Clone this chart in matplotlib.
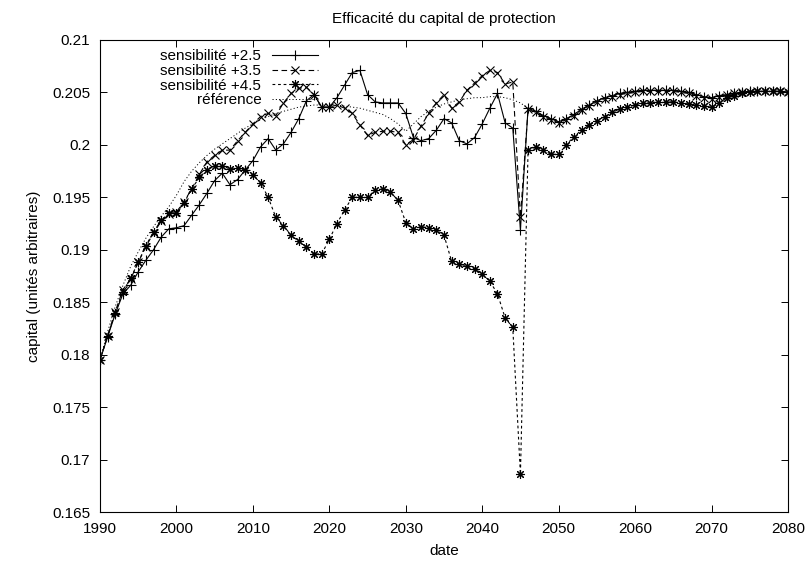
import numpy as np
import matplotlib
matplotlib.use('Agg')
import matplotlib.pyplot as plt
from matplotlib.ticker import FuncFormatter, MultipleLocator

plt.rcParams['font.family'] = ['Liberation Sans', 'DejaVu Sans']
plt.rcParams['lines.scale_dashes'] = False

# années (une valeur par an)
annees = list(range(1990, 2081))

# queue commune après 2046 (les courbes se rejoignent)
queue_haute = [0.2035, 0.2032, 0.2028, 0.2025, 0.2022, 0.2025, 0.2029, 0.2034, 0.2038, 0.2042,
               0.2045, 0.2047, 0.2049, 0.2050, 0.2051, 0.2052, 0.2052, 0.2052, 0.2052, 0.2052,
               0.2051, 0.2050, 0.2048, 0.2046, 0.2045, 0.2047, 0.2048, 0.2049, 0.2050, 0.2051,
               0.2051, 0.2051, 0.2051, 0.2051, 0.2050]

sens_25 = [0.1795, 0.1817, 0.1839, 0.1858, 0.1866, 0.1879, 0.1890, 0.1900, 0.1912, 0.1920,
           0.1921, 0.1923, 0.1933, 0.1943, 0.1954, 0.1966, 0.1973, 0.1962, 0.1967, 0.1976,
           0.1985, 0.1998, 0.2006, 0.1995, 0.2001, 0.2012, 0.2025, 0.2042, 0.2048, 0.2036,
           0.2036, 0.2045, 0.2057, 0.2069, 0.2071, 0.2048, 0.2041, 0.2040, 0.2040, 0.2040,
           0.2030, 0.2007, 0.2004, 0.2006, 0.2014, 0.2025, 0.2021, 0.2004, 0.2001, 0.2007,
           0.2020, 0.2035, 0.2049, 0.2021, 0.2016, 0.1919] + queue_haute

sens_35 = [0.1795, 0.1818, 0.1841, 0.1862, 0.1872, 0.1888, 0.1903, 0.1916, 0.1927, 0.1934,
           0.1936, 0.1946, 0.1958, 0.1972, 0.1984, 0.1990, 0.1995, 0.1995, 0.2004, 0.2012,
           0.2020, 0.2027, 0.2030, 0.2028, 0.2040, 0.2049, 0.2054, 0.2055, 0.2048, 0.2036,
           0.2036, 0.2038, 0.2035, 0.2030, 0.2019, 0.2009, 0.2012, 0.2013, 0.2013, 0.2012,
           0.2000, 0.2005, 0.2018, 0.2030, 0.2040, 0.2048, 0.2035, 0.2041, 0.2052, 0.2059,
           0.2066, 0.2071, 0.2069, 0.2058, 0.2060, 0.1931] + \
          [0.2034, 0.2031, 0.2027, 0.2024, 0.2021, 0.2024, 0.2028, 0.2033, 0.2037, 0.2041,
           0.2044, 0.2046, 0.2048, 0.2049, 0.2050, 0.2051, 0.2051, 0.2051, 0.2051, 0.2051,
           0.2050, 0.2049, 0.2047, 0.2045, 0.2044, 0.2046, 0.2048, 0.2049, 0.2050, 0.2050,
           0.2051, 0.2051, 0.2051, 0.2051, 0.2050]

sens_45 = [0.1795, 0.1818, 0.1840, 0.1860, 0.1873, 0.1888, 0.1904, 0.1917, 0.1928, 0.1935,
           0.1935, 0.1945, 0.1958, 0.1969, 0.1976, 0.1980, 0.1980, 0.1977, 0.1978, 0.1976,
           0.1971, 0.1964, 0.1950, 0.1931, 0.1923, 0.1914, 0.1908, 0.1903, 0.1896, 0.1896,
           0.1910, 0.1925, 0.1938, 0.1950, 0.1950, 0.1950, 0.1957, 0.1958, 0.1955, 0.1947,
           0.1926, 0.1920, 0.1922, 0.1921, 0.1919, 0.1914, 0.1889, 0.1886, 0.1885, 0.1882,
           0.1877, 0.1870, 0.1858, 0.1835, 0.1826, 0.1686,
           0.1995, 0.1998, 0.1995, 0.1991, 0.1991, 0.2000, 0.2008, 0.2014, 0.2019, 0.2023,
           0.2027, 0.2031, 0.2034, 0.2036, 0.2038, 0.2040, 0.2040, 0.2041, 0.2041, 0.2041,
           0.2040, 0.2039, 0.2038, 0.2037, 0.2036, 0.2040, 0.2045, 0.2047, 0.2049, 0.2050,
           0.2051, 0.2051, 0.2051, 0.2051, 0.2050]

reference = [0.1795, 0.1822, 0.1846, 0.1866, 0.1884, 0.1898, 0.1911, 0.1922, 0.1932, 0.1941,
             0.1952, 0.1965, 0.1975, 0.1983, 0.1990, 0.1996, 0.2001, 0.2006, 0.2011, 0.2016,
             0.2020, 0.2024, 0.2027, 0.2030, 0.2032, 0.2034, 0.2036, 0.2037, 0.2038, 0.2038,
             0.2038, 0.2038, 0.2037, 0.2036, 0.2035, 0.2033, 0.2031, 0.2029, 0.2025, 0.2020,
             0.2013, 0.2020, 0.2027, 0.2032, 0.2036, 0.2039, 0.2041, 0.2043, 0.2044, 0.2045,
             0.2045, 0.2046, 0.2046, 0.2045, 0.2043, 0.2040] + queue_haute

fig, ax = plt.subplots(figsize=(8.11, 5.61), dpi=100)
fig.subplots_adjust(left=0.1233, right=0.9716, top=0.9287, bottom=0.0873)

lw = 0.8
ax.plot(annees, sens_25, color='black', linewidth=lw, linestyle='-',
        marker='+', markersize=6.5, markeredgewidth=0.8, label='sensibilité +2.5')
ax.plot(annees, sens_35, color='black', linewidth=lw, linestyle=(0, (4, 2.5)),
        marker='x', markersize=5.5, markeredgewidth=0.8, label='sensibilité +3.5')
ax.plot(annees, sens_45, color='black', linewidth=lw, linestyle=(0, (2, 2)),
        marker=(8, 2, 0), markersize=6.5, markeredgewidth=0.8, label='sensibilité +4.5')
ax.plot(annees, reference, color='black', linewidth=0.7, linestyle=(0, (0.8, 1.6)),
        label='référence')

ax.set_xlim(1990, 2080)
ax.set_ylim(0.165, 0.21)
ax.xaxis.set_major_locator(MultipleLocator(10))
ax.yaxis.set_major_locator(MultipleLocator(0.005))
ax.yaxis.set_major_formatter(FuncFormatter(lambda v, p: '%g' % round(v, 4)))
ax.tick_params(direction='in', top=True, right=True, length=5, width=0.7,
               labelsize=11, pad=7)
for s in ax.spines.values():
    s.set_linewidth(0.8)

ax.set_title('Efficacité du capital de protection', fontsize=11, pad=12)
ax.set_xlabel('date', fontsize=11, labelpad=6)
ax.set_ylabel('capital (unités arbitraires)', fontsize=11, labelpad=8)

leg = ax.legend(loc='upper right', bbox_to_anchor=(0.33, 1.0), frameon=False,
                markerfirst=False, fontsize=11, handlelength=3.0, handletextpad=0.7,
                labelspacing=0.05, borderaxespad=0.2)
# texte aligné à droite comme gnuplot
leg._legend_box._children[-1]._children[0].align = 'right'

fig.savefig('out.png', dpi=100)
